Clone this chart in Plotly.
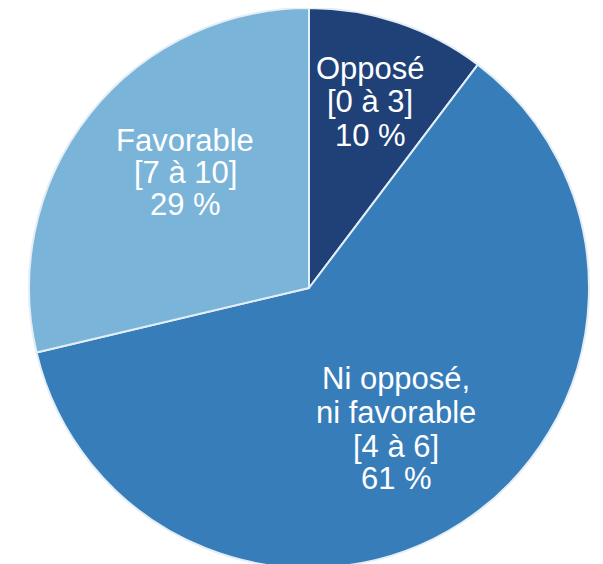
import plotly.graph_objects as go

# Data
categories = ["Opposé [0 à 3]", "Ni opposé, ni favorable [4 à 6]", "Favorable [7 à 10]"]
label_lines = [
    ["Opposé", "[0 à 3]", "10 %"],
    ["Ni opposé,", "ni favorable", "[4 à 6]", "61 %"],
    ["Favorable", "[7 à 10]", "29 %"],
]
values = [10.3, 61.0, 28.7]
colors = ["#204177", "#377DBA", "#7AB4D9"]

W, H = 603, 564
OFF = 8  # page body margin offset

fig = go.Figure(go.Pie(
    labels=categories,
    values=values,
    sort=False,
    direction="clockwise",
    rotation=0,
    textinfo="none",
    hoverinfo="label+percent",
    marker=dict(colors=colors, line=dict(color="#E4EEF7", width=2)),
    domain=dict(x=[(309 - OFF - 280) / W, (309 - OFF + 280) / W], y=[4 / H, 1]),
    showlegend=False,
))

# label placement (page pixel centres of each line)
label_pos = [
    (370, [68, 101, 135]),
    (396, [378, 412, 446, 478]),
    (185, [140, 172, 205]),
]

annotations = []
for lines, (cx, ys) in zip(label_lines, label_pos):
    for line, cy in zip(lines, ys):
        annotations.append(dict(
            x=(cx - OFF) / W, y=1 - (cy - OFF) / H, xref="paper", yref="paper",
            text=line, showarrow=False, xanchor="center", yanchor="middle",
            font=dict(family="Liberation Sans, Arial, sans-serif", size=31, color="white"),
        ))

fig.update_layout(
    width=W, height=H,
    margin=dict(l=0, r=0, t=0, b=0),
    paper_bgcolor="white",
    plot_bgcolor="white",
    annotations=annotations,
)

fig.write_html("out.html")
